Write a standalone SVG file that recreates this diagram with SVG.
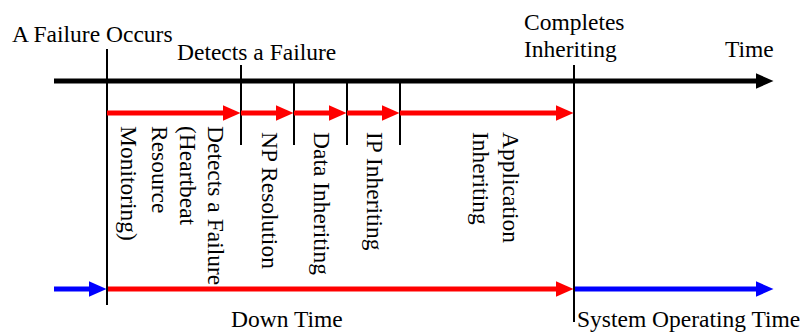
<svg xmlns="http://www.w3.org/2000/svg" width="807" height="333" viewBox="0 0 807 333">
<style>
text{font-family:"Liberation Serif","Times New Roman",serif;font-size:23.5px;fill:#000}
.ax{stroke:#000;stroke-width:5;fill:none}
.rd{stroke:#FF0000;stroke-width:5;fill:none}
.bl{stroke:#0000FF;stroke-width:5;fill:none}
.tk{stroke:#000;stroke-width:2;fill:none}
</style>
<defs>
<marker id="hk" markerUnits="userSpaceOnUse" markerWidth="18" markerHeight="18" refX="0.5" refY="9" orient="auto"><path d="M0,1 L18,9 L0,17 z" fill="#000"/></marker>
<marker id="hr" markerUnits="userSpaceOnUse" markerWidth="18" markerHeight="18" refX="0.5" refY="9" orient="auto"><path d="M0,1 L18,9 L0,17 z" fill="#FF0000"/></marker>
<marker id="hb" markerUnits="userSpaceOnUse" markerWidth="18" markerHeight="18" refX="0.5" refY="9" orient="auto"><path d="M0,1 L18,9 L0,17 z" fill="#0000FF"/></marker>
</defs>
<g id="connectors">
<line class="ax" x1="54" y1="81" x2="756" y2="81" marker-end="url(#hk)"/>
<line class="tk" x1="107" y1="49" x2="107" y2="305"/>
<line class="tk" x1="241" y1="65" x2="241" y2="145"/>
<line class="tk" x1="294" y1="81" x2="294" y2="145"/>
<line class="tk" x1="347" y1="81" x2="347" y2="145"/>
<line class="tk" x1="400" y1="81" x2="400" y2="145"/>
<line class="tk" x1="574" y1="65" x2="574" y2="322"/>
<line class="rd" x1="107" y1="113" x2="223" y2="113" marker-end="url(#hr)"/>
<line class="rd" x1="241" y1="113" x2="276" y2="113" marker-end="url(#hr)"/>
<line class="rd" x1="294" y1="113" x2="329" y2="113" marker-end="url(#hr)"/>
<line class="rd" x1="347" y1="113" x2="382" y2="113" marker-end="url(#hr)"/>
<line class="rd" x1="400" y1="113" x2="556" y2="113" marker-end="url(#hr)"/>
<line class="bl" x1="54" y1="289" x2="89" y2="289" marker-end="url(#hb)"/>
<line class="rd" x1="108" y1="289" x2="556" y2="289" marker-end="url(#hr)"/>
<line class="bl" x1="575" y1="289" x2="756" y2="289" marker-end="url(#hb)"/>
</g>
<g id="label-failure-occurs"><text x="12" y="42">A Failure Occurs</text></g>
<g id="label-detects"><text x="177" y="60">Detects a Failure</text></g>
<g id="label-completes"><text x="524" y="30">Completes</text><text x="524" y="57">Inheriting</text></g>
<g id="label-time"><text x="725" y="57">Time</text></g>
<g id="phase-detect">
<text transform="translate(208,126) rotate(90)">Detects a Failure</text>
<text transform="translate(180,126) rotate(90)">(Heartbeat</text>
<text transform="translate(152,126) rotate(90)">Resource</text>
<text transform="translate(121,126) rotate(90)">Monitoring)</text>
</g>
<g id="phase-np"><text transform="translate(262,132) rotate(90)">NP Resolution</text></g>
<g id="phase-data"><text transform="translate(314,132) rotate(90)">Data Inheriting</text></g>
<g id="phase-ip"><text transform="translate(367,132) rotate(90)">IP Inheriting</text></g>
<g id="phase-app">
<text transform="translate(503,132) rotate(90)">Application</text>
<text transform="translate(473,132) rotate(90)">Inheriting</text>
</g>
<g id="label-down"><text x="231" y="327">Down Time</text></g>
<g id="label-operating"><text x="577" y="327">System Operating Time</text></g>
</svg>
